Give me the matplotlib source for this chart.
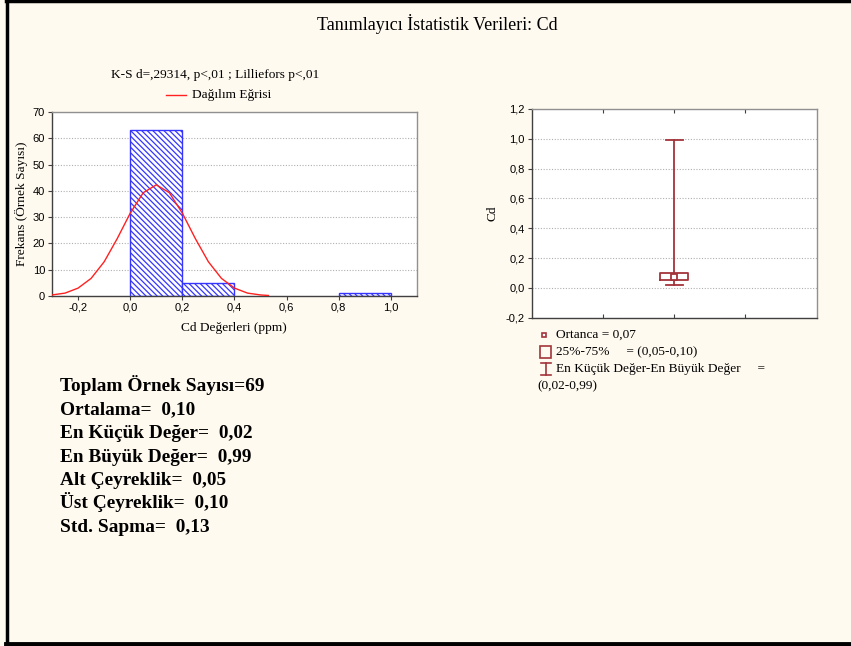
import matplotlib
matplotlib.use("Agg")
import matplotlib.pyplot as plt
from matplotlib.lines import Line2D
from matplotlib.patches import Rectangle

# ---- data ----
bin_left = [0.0, 0.2, 0.4, 0.6, 0.8]
bin_width = 0.2
counts = [63, 5, 0, 0, 1]
curve_x = [-0.30, -0.25, -0.20, -0.15, -0.10, -0.05, 0.00, 0.05, 0.10, 0.15,
           0.20, 0.25, 0.30, 0.35, 0.40, 0.45, 0.50, 0.53]
curve_y = [0.4, 1.1, 3.0, 6.7, 13.0, 21.8, 31.5, 39.3, 42.3, 39.3,
           31.5, 21.8, 13.0, 6.7, 3.0, 1.1, 0.4, 0.2]
hist_xticks = [-0.2, 0.0, 0.2, 0.4, 0.6, 0.8, 1.0]
hist_yticks = [0, 10, 20, 30, 40, 50, 60, 70]
box_yticks = [-0.2, 0.0, 0.2, 0.4, 0.6, 0.8, 1.0, 1.2]
median = 0.07
q1, q3 = 0.05, 0.10
vmin, vmax = 0.02, 0.99
stats_lines = ["Toplam Örnek Sayısı=69", "Ortalama=  0,10", "En Küçük Değer=  0,02",
               "En Büyük Değer=  0,99", "Alt Çeyreklik=  0,05", "Üst Çeyreklik=  0,10",
               "Std. Sapma=  0,13"]
title = "Tanımlayıcı İstatistik Verileri: Cd"
ks_text = "K-S d=,29314, p<,01 ; Lilliefors p<,01"

W, H = 851, 646
SERIF = "Liberation Serif"
SANS = "Liberation Sans"
BG = "#FFFAF0"
BOXC = "#A3343A"
FS = 9.6      # small serif text
TFS = 8       # tick labels

def fx(px):
    return px / W

def fy(py):
    return 1 - py / H

def comma(v, fmt="{:.1f}"):
    return fmt.format(v).replace(".", ",")

fig = plt.figure(figsize=(W / 100, H / 100), dpi=100, facecolor=BG)

# outer frame (left, top, bottom)
fig.add_artist(Line2D([fx(7), fx(7)], [fy(1), fy(644)], color="black", lw=2.5, transform=fig.transFigure))
fig.add_artist(Line2D([fx(6), fx(851)], [fy(1), fy(1)], color="black", lw=2.5, transform=fig.transFigure))
fig.add_artist(Line2D([fx(6), fx(851)], [fy(644), fy(644)], color="black", lw=3.5, transform=fig.transFigure))

fig.text(fx(437), fy(24), title, ha="center", va="center", fontsize=13, family=SERIF)

# ---- histogram ----
ax = fig.add_axes([fx(52), fy(296), fx(365), 184 / H])
ax.set_facecolor("white")
plt.rcParams["hatch.linewidth"] = 0.9
for l, c in zip(bin_left, counts):
    if c > 0:
        ax.bar(l, c, width=bin_width, align="edge", facecolor="white",
               edgecolor="#3535FF", hatch="\\\\\\\\\\\\", linewidth=1.0, zorder=2)
ax.plot(curve_x, curve_y, color="#FF2020", lw=1.0, zorder=3)
ax.set_xlim(-0.3, 1.1)
ax.set_ylim(0, 70)
ax.set_xticks(hist_xticks)
ax.set_xticklabels([comma(v) for v in hist_xticks], family=SANS, fontsize=TFS)
ax.set_yticks(hist_yticks)
ax.set_yticklabels([str(v) for v in hist_yticks], family=SANS, fontsize=TFS)
ax.tick_params(direction="out", length=3, width=0.8, pad=2, color="#404040")
ax.yaxis.grid(True, linestyle=(0, (1, 1.5)), color="#B0B0B0", lw=0.8, zorder=0)
ax.set_axisbelow(True)
for s in ax.spines.values():
    s.set_color("#404040")
    s.set_linewidth(1.0)
ax.spines["right"].set_color("#909090")
ax.spines["top"].set_color("#909090")

fig.text(fx(215), fy(75), ks_text, ha="center", va="center", fontsize=FS, family=SERIF)
fig.add_artist(Line2D([fx(166), fx(186)], [fy(95), fy(95)], color="#FF2020", lw=1.0, transform=fig.transFigure))
fig.text(fx(192), fy(95), "Dağılım Eğrisi", ha="left", va="center", fontsize=FS, family=SERIF)
fig.text(fx(21), fy(204), "Frekans (Örnek Sayısı)", ha="center", va="center", rotation=90, fontsize=FS, family=SERIF)
fig.text(fx(234), fy(328), "Cd Değerleri (ppm)", ha="center", va="center", fontsize=FS, family=SERIF)

# ---- box plot ----
bx = fig.add_axes([fx(531.7), fy(317.7), fx(285), 208.7 / H])
bx.set_facecolor("white")
bx.bxp([dict(med=median, q1=q1, q3=q3, whislo=vmin, whishi=vmax, label="")],
       positions=[2], widths=0.4, capwidths=0.24, showfliers=False,
       boxprops=dict(color=BOXC, lw=1.3),
       whiskerprops=dict(color=BOXC, lw=1.3),
       capprops=dict(color=BOXC, lw=1.3),
       medianprops=dict(lw=0))
bx.plot([2], [median], marker="s", ms=4.5, mfc="white", mec=BOXC, mew=1.3, ls="none")
bx.set_xlim(0, 4)
bx.set_ylim(-0.2, 1.2)
bx.set_xticks([1, 2, 3])
bx.set_xticklabels([])
bx.tick_params(axis="x", direction="in", length=3, top=True, bottom=True, color="#404040")
bx.set_yticks(box_yticks)
bx.set_yticklabels([comma(v) for v in box_yticks], family=SANS, fontsize=TFS)
bx.tick_params(axis="y", direction="out", length=3, width=0.8, pad=2, color="#404040")
bx.yaxis.grid(True, linestyle=(0, (1, 1.5)), color="#B0B0B0", lw=0.8, zorder=0)
bx.set_axisbelow(True)
for s in bx.spines.values():
    s.set_color("#404040")
    s.set_linewidth(1.0)
bx.spines["right"].set_color("#909090")
bx.spines["top"].set_color("#909090")
fig.text(fx(493), fy(213), "Cd", ha="center", va="center", rotation=90, fontsize=FS, family=SERIF)

# box legend
fig.add_artist(Line2D([fx(544)], [fy(335)], marker="s", ms=3.5, mfc="white", mec=BOXC, mew=1.2,
                      transform=fig.transFigure))
fig.text(fx(556), fy(335), "Ortanca = " + comma(median, "{:.2f}"), ha="left", va="center", fontsize=FS, family=SERIF)
fig.add_artist(Rectangle((fx(540), fy(358)), fx(11), 12 / H, fill=False, ec=BOXC, lw=1.2,
                         transform=fig.transFigure))
fig.text(fx(556), fy(352), "25%-75%     = (" + comma(q1, "{:.2f}") + "-" + comma(q3, "{:.2f}") + ")",
         ha="left", va="center", fontsize=FS, family=SERIF)
fig.add_artist(Line2D([fx(546), fx(546)], [fy(363), fy(375)], color=BOXC, lw=1.2, transform=fig.transFigure))
fig.add_artist(Line2D([fx(541), fx(551)], [fy(363), fy(363)], color=BOXC, lw=1.2, transform=fig.transFigure))
fig.add_artist(Line2D([fx(541), fx(551)], [fy(375), fy(375)], color=BOXC, lw=1.2, transform=fig.transFigure))
fig.text(fx(556), fy(369), "En Küçük Değer-En Büyük Değer     =", ha="left", va="center", fontsize=FS, family=SERIF)
fig.text(fx(537), fy(386), "(" + comma(vmin, "{:.2f}") + "-" + comma(vmax, "{:.2f}") + ")",
         ha="left", va="center", fontsize=FS, family=SERIF)

# stats block
for i, line in enumerate(stats_lines):
    fig.text(fx(60), fy(391 + i * 23.5), line, ha="left", va="baseline", fontsize=13.9,
             fontweight="bold", family=SERIF)

fig.savefig("out.png", dpi=100, facecolor=BG)
